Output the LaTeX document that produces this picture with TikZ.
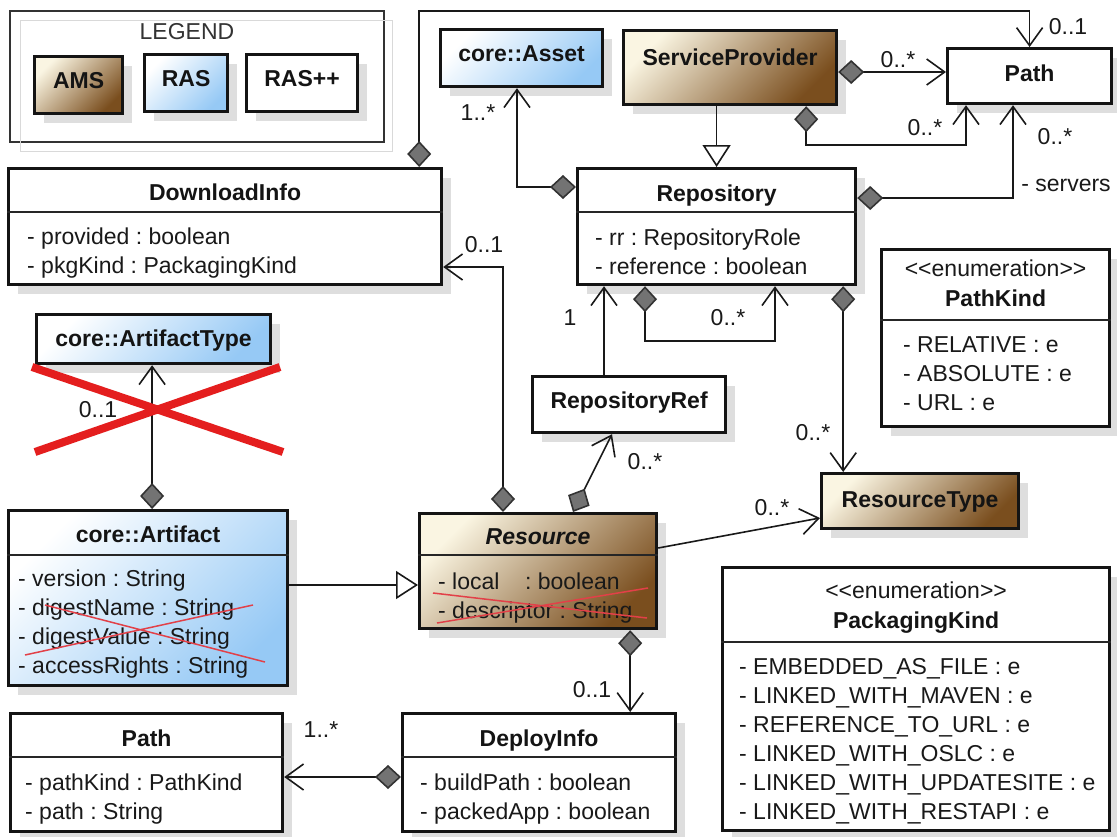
\documentclass[tikz,border=0pt]{standalone}
\usepackage{fontspec}
\setmainfont{Liberation Sans}
\usetikzlibrary{arrows.meta,shadows}
\frenchspacing

\definecolor{amsLight}{RGB}{250,245,226}
\definecolor{amsDark}{RGB}{122,78,30}
\definecolor{rasDark}{RGB}{150,201,245}
\definecolor{crossRed}{RGB}{228,30,30}
\definecolor{strikeRed}{RGB}{226,64,72}

\newcommand\umlfont{\fontsize{23}{28}\selectfont}

\tikzset{
  cls/.style={draw=black!92, line width=3.2pt, anchor=north west, inner sep=0pt,
    drop shadow={shadow xshift=9pt, shadow yshift=-9pt, fill=black!13, opacity=1}},
  plain/.style={fill=white},
  ams/.style={top color=amsLight, bottom color=amsDark, shading angle=45},
  ras/.style={top color=white, bottom color=rasDark, shading angle=45},
  cname/.style={font=\umlfont\bfseries, text=black!92, anchor=base, inner sep=0pt},
  attr/.style={font=\umlfont, text=black!90, anchor=base west, inner sep=0pt},
  stereo/.style={font=\umlfont, text=black!90, anchor=base, inner sep=0pt},
  mult/.style={font=\umlfont, text=black!90, inner sep=0pt},
  sep/.style={line width=1.8pt, black!85},
  comp/.style={{Diamond[length=26pt, width=24pt, fill=black!55, color=black!80]}-{Straight Barb[length=18pt, width=26pt]}},
  assoc/.style={-{Straight Barb[length=18pt, width=26pt]}},
  gen/.style={-{Triangle[length=22pt, width=28pt, fill=white]}}
}

\begin{document}
\begin{tikzpicture}[x=1pt, y=-1pt]
  \fill[white] (0,0) rectangle (1117,836);
  \useasboundingbox (0,0) rectangle (1117,836);

  % legend
  \node[draw=black!80, line width=1.5pt, anchor=north west, minimum width=374, minimum height=131] (legend) at (9,10) {};
  \draw[black!15, line width=1pt] ([shift={(11pt,-10pt)}]legend.north west) rectangle ([shift={(8pt,-9pt)}]legend.south east);
  \node[font=\umlfont, text=black!80] (legend-t) at (187,32) {LEGEND};
  \node[cls, ams, minimum width=88, minimum height=57] (ams) at (33,55) {};
  \node[cname] (ams-t) at ([yshift=-33pt]ams.north) {AMS};
  \node[cls, ras, minimum width=83, minimum height=57] (ras) at (143,53) {};
  \node[cname] (ras-t) at ([yshift=-33pt]ras.north) {RAS};
  \node[cls, plain, minimum width=111, minimum height=57] (raspp) at (245,53) {};
  \node[cname] (raspp-t) at ([yshift=-33pt]raspp.north) {RAS++};

  % classes
  \node[cls, plain, minimum width=433, minimum height=116] (dl) at (7,167) {};
  \node[cname] (dl-t) at ([yshift=-33pt]dl.north) {DownloadInfo};
  \draw[sep] ([yshift=-45pt]dl.north west) -- ([yshift=-45pt]dl.north east);
  \foreach \txt [count=\i] in {- provided : boolean, - pkgKind : PackagingKind}
    \node[attr] (dl-\i) at ([xshift=20pt, yshift={-48pt-29pt*\i}]dl.north west) {\txt};

  \node[cls, ras, minimum width=162, minimum height=57] (asset) at (439,28) {};
  \node[cname] (asset-t) at ([yshift=-33pt]asset.north) {core::Asset};

  \node[cls, ams, minimum width=213, minimum height=74] (sp) at (622,29) {};
  \node[cname] (sp-t) at ([yshift=-36pt]sp.north) {ServiceProvider};

  \node[cls, plain, minimum width=164, minimum height=55] (pathT) at (946,47) {};
  \node[cname] (pathT-t) at ([yshift=-34pt]pathT.north) {Path};

  \node[cls, plain, minimum width=278, minimum height=116] (repo) at (576,167) {};
  \node[cname] (repo-t) at ([yshift=-34pt]repo.north) {Repository};
  \draw[sep] ([yshift=-45pt]repo.north west) -- ([yshift=-45pt]repo.north east);
  \foreach \txt [count=\i] in {- rr : RepositoryRole, - reference : boolean}
    \node[attr] (repo-\i) at ([xshift=19pt, yshift={-49pt-29pt*\i}]repo.north west) {\txt};

  \node[cls, plain, minimum width=228, minimum height=177] (pkind) at (880,248) {};
  \node[stereo] (pkind-s) at ([yshift=-28pt]pkind.north) {<{}<enumeration>{}>};
  \node[cname] (pkind-t) at ([yshift=-58pt]pkind.north) {PathKind};
  \draw[sep] ([yshift=-72pt]pkind.north west) -- ([yshift=-72pt]pkind.north east);
  \foreach \txt [count=\i] in {- RELATIVE : e, - ABSOLUTE : e, - URL : e}
    \node[attr] (pkind-\i) at ([xshift=23pt, yshift={-75pt-29pt*\i}]pkind.north west) {\txt};

  \node[cls, ras, minimum width=234, minimum height=49] (atype) at (35,313) {};
  \node[cname] (atype-t) at ([yshift=-33pt]atype.north) {core::ArtifactType};

  \node[cls, plain, minimum width=193, minimum height=56] (rref) at (531,375) {};
  \node[cname] (rref-t) at ([yshift=-33pt]rref.north) {RepositoryRef};

  \node[cls, ams, minimum width=197, minimum height=55] (rtype) at (820,472) {};
  \node[cname] (rtype-t) at ([yshift=-35pt]rtype.north) {ResourceType};

  \node[cls, ras, minimum width=279, minimum height=175] (art) at (7,509) {};
  \node[cname] (art-t) at ([yshift=-33pt]art.north) {core::Artifact};
  \draw[sep] ([yshift=-46pt]art.north west) -- ([yshift=-46pt]art.north east);
  \foreach \txt [count=\i] in {- version : String, - digestName : String, - digestValue : String, - accessRights : String}
    \node[attr] (art-\i) at ([xshift=11pt, yshift={-48pt-29pt*\i}]art.north west) {\txt};

  \node[cls, ams, minimum width=237, minimum height=115] (res) at (418,512) {};
  \node[cname] (res-t) at ([yshift=-32pt]res.north) {\itshape Resource};
  \draw[sep] ([yshift=-43pt]res.north west) -- ([yshift=-43pt]res.north east);
  \foreach \txt [count=\i] in {- local\ \ \ \ : boolean, - descriptor : String}
    \node[attr] (res-\i) at ([xshift=20pt, yshift={-48pt-29pt*\i}]res.north west) {\txt};

  \node[cls, plain, minimum width=387, minimum height=263] (pk) at (721,566) {};
  \node[stereo] (pk-s) at ([yshift=-32pt]pk.north) {<{}<enumeration>{}>};
  \node[cname] (pk-t) at ([yshift=-62pt]pk.north) {PackagingKind};
  \draw[sep] ([yshift=-76pt]pk.north west) -- ([yshift=-76pt]pk.north east);
  \foreach \txt [count=\i] in {- EMBEDDED\_AS\_FILE : e, - LINKED\_WITH\_MAVEN : e, - REFERENCE\_TO\_URL : e,
      - LINKED\_WITH\_OSLC : e, - LINKED\_WITH\_UPDATESITE : e, - LINKED\_WITH\_RESTAPI : e}
    \node[attr] (pk-\i) at ([xshift=18pt, yshift={-79pt-29pt*\i}]pk.north west) {\txt};

  \node[cls, plain, minimum width=272, minimum height=118] (pathB) at (9,712) {};
  \node[cname] (pathB-t) at ([yshift=-34pt]pathB.north) {Path};
  \draw[sep] ([yshift=-45pt]pathB.north west) -- ([yshift=-45pt]pathB.north east);
  \foreach \txt [count=\i] in {- pathKind : PathKind, - path : String}
    \node[attr] (pathB-\i) at ([xshift=16pt, yshift={-49pt-29pt*\i}]pathB.north west) {\txt};

  \node[cls, plain, minimum width=273, minimum height=118] (dep) at (401,712) {};
  \node[cname] (dep-t) at ([yshift=-34pt]dep.north) {DeployInfo};
  \draw[sep] ([yshift=-45pt]dep.north west) -- ([yshift=-45pt]dep.north east);
  \foreach \txt [count=\i] in {- buildPath : boolean, - packedApp : boolean}
    \node[attr] (dep-\i) at ([xshift=19pt, yshift={-49pt-29pt*\i}]dep.north west) {\txt};

  % associations
  \begin{scope}[line width=1.6pt, black!90]
    \draw[comp] ([xshift=-24pt]dl.north east) |- ([yshift=36pt]pathT.north) -- (pathT.north);
    \draw[comp] ([yshift=-43pt]sp.north east) -- ([yshift=-25pt]pathT.north west);
    \draw[comp] ([xshift=-32pt]sp.south east) -- ++(0,39) -| ([xshift=20pt]pathT.south west);
    \draw[comp] ([yshift=-31pt]repo.north east) -| ([xshift=67pt]pathT.south west);
    \draw[gen] (sp.south -| repo.north) -- (repo.north);
    \draw[comp] ([yshift=-20pt]repo.north west) -| ([xshift=78pt]asset.south west);
    \draw[comp] ([xshift=85pt]res.north west) |- ([yshift=-100pt]dl.north east);
    \draw[assoc] ([xshift=73pt]rref.north west) coordinate (rrTop) -- (rrTop |- repo.south);
    \draw[comp] ([xshift=69pt]repo.south west) -- ++(0,55) -| ([xshift=199pt]repo.south west);
    \draw[comp] ([xshift=-14pt]repo.south east) coordinate (rpBot) -- (rpBot |- rtype.north);
    \draw[comp] ([xshift=155pt]res.north west) -- ([xshift=81pt]rref.south west);
    \draw[assoc] ([yshift=-36pt]res.north east) -- ([yshift=-46pt]rtype.north west);
    \draw[gen] ([yshift=-76pt]art.north east) -- ([yshift=-73pt]res.north west);
    \draw[comp] ([xshift=4pt]art.north) coordinate (arTop) -- (arTop |- atype.south);
    \draw[comp] ([yshift=-65pt]dep.north west) -- ([yshift=-65pt]pathB.north east);
    \draw[comp] ([xshift=-28pt]res.south east) coordinate (rsBot) -- (rsBot |- dep.north);
  \end{scope}

  % multiplicities
  \node[mult] (m-dl) at (1068,27) {0..1};
  \node[mult] (m-sp1) at (898,60) {0..*};
  \node[mult] (m-sp2) at (925,128) {0..*};
  \node[mult] (m-srv) at (1055,137) {0..*};
  \node[mult] (r-srv) at (1066,185) {- servers};
  \node[mult] (m-asset) at (478,113) {1..*};
  \node[mult] (m-res-dl) at (484,245) {0..1};
  \node[mult] (m-rref) at (570,318) {1};
  \node[mult] (m-self) at (728,318) {0..*};
  \node[mult] (m-rtype) at (813,433) {0..*};
  \node[mult] (m-res-rref) at (645,462) {0..*};
  \node[mult] (m-res-rtype) at (772,508) {0..*};
  \node[mult] (m-atype) at (98,410) {0..1};
  \node[mult] (m-pathB) at (321,730) {1..*};
  \node[mult] (m-dep) at (592,690) {0..1};

  % removed parts
  \draw[crossRed, line width=8pt] (32,367) -- (283,452) (35,452) -- (280,367);
  \draw[strikeRed, line width=1.5pt] (45,605) -- (265,662) (25,655) -- (253,605);
  \draw[strikeRed, line width=1.5pt] (433,593) -- (647,618) (437,623) -- (648,588);
\end{tikzpicture}
\end{document}
